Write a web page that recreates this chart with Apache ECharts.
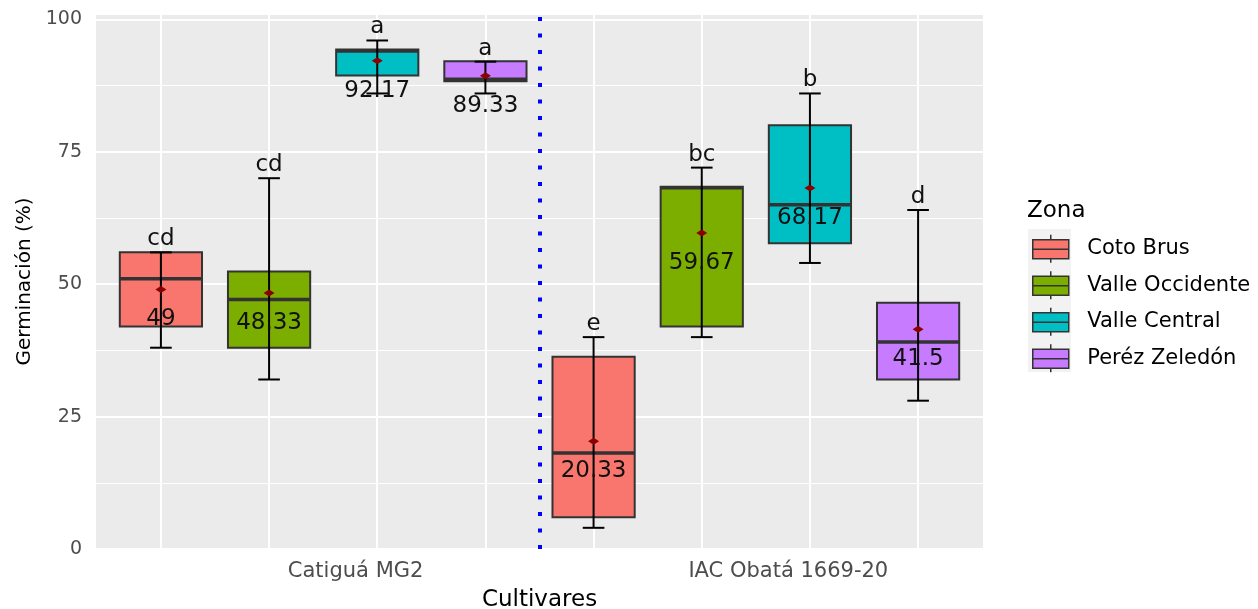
<!DOCTYPE html>
<html><head><meta charset="utf-8">
<script src="https://cdn.jsdelivr.net/npm/echarts@6/dist/echarts.min.js"></script>
<style>html,body{margin:0;padding:0;background:#fff}#c{width:1258px;height:609px}</style>
</head><body><div id="c"></div>
<script>
// ---- data ----
const cultivars = ['Catiguá MG2', 'IAC Obatá 1669-20'];
const cultivarTickPos = [2.8, 6.8];
const zones = ['Coto Brus', 'Valle Occidente', 'Valle Central', 'Peréz Zeledón'];
const zoneColors = ['#F8766D', '#7CAE00', '#00BFC4', '#C77CFF'];
// each row = zone, each column = cultivar
const whiskerLow  = [[38, 4],    [32, 40],    [86, 54],    [86, 28]];
const q1          = [[42, 6],    [38, 42],    [89.4, 57.7],[88.3, 32]];
const median      = [[51, 18.1], [47.1, 68.2],[94, 65],    [88.7, 39.1]];
const q3          = [[56, 36.3], [52.4, 68.4],[94.3, 80],  [92.1, 46.5]];
const whiskerHigh = [[56, 40],   [70, 72],    [96, 86],    [92, 64]];
const means       = [[49, 20.33],[48.33, 59.67],[92.17, 68.17],[89.33, 41.5]];
const letters     = [['cd', 'e'],['cd', 'bc'],['a', 'b'],  ['a', 'd']];
const yTickStep = 25;

const FONT = 'DejaVu Sans';
const BOX_W = 0.76, CAP_W = 0.2;

function boxX(zi, ci) { return ci * zones.length + zi + 1; }

function renderBox(params, api) {
  const zi = params.seriesIndex, di = params.dataIndex;
  const x = api.value(0);
  const pLo = api.coord([x, api.value(1)]);
  const pQ1 = api.coord([x, api.value(2)]);
  const pMed = api.coord([x, api.value(3)]);
  const pQ3 = api.coord([x, api.value(4)]);
  const pHi = api.coord([x, api.value(5)]);
  const pMean = api.coord([x, api.value(6)]);
  const cx = pQ3[0];
  const hw = api.size([BOX_W, 0])[0] / 2;
  const ch = api.size([CAP_W, 0])[0] / 2;
  const color = zoneColors[zi];
  return {
    type: 'group',
    children: [
      { type: 'rect', shape: { x: cx - hw, y: pQ3[1], width: 2 * hw, height: pQ1[1] - pQ3[1] },
        style: { fill: color, stroke: '#333333', lineWidth: 2 } },
      { type: 'line', shape: { x1: cx - hw, y1: pMed[1], x2: cx + hw, y2: pMed[1] },
        style: { stroke: '#333333', lineWidth: 3.5 } },
      { type: 'line', shape: { x1: cx, y1: pLo[1], x2: cx, y2: pHi[1] },
        style: { stroke: '#000', lineWidth: 2 } },
      { type: 'line', shape: { x1: cx - ch, y1: pLo[1], x2: cx + ch, y2: pLo[1] },
        style: { stroke: '#000', lineWidth: 2 } },
      { type: 'line', shape: { x1: cx - ch, y1: pHi[1], x2: cx + ch, y2: pHi[1] },
        style: { stroke: '#000', lineWidth: 2 } },
      { type: 'polygon', shape: { points: [[cx - 5.5, pMean[1]], [cx, pMean[1] - 3.5], [cx + 5.5, pMean[1]], [cx, pMean[1] + 3.5]] },
        style: { fill: '#8B0000' } },
      { type: 'text', style: { text: String(means[zi][di]), x: cx, y: pMean[1] + 30, align: 'center', verticalAlign: 'middle',
        fontSize: 23, fontFamily: FONT, fill: '#111' } },
      { type: 'text', style: { text: letters[zi][di], x: cx, y: pHi[1] - 13, align: 'center', verticalAlign: 'middle',
        fontSize: 23, fontFamily: FONT, fill: '#111' } }
    ]
  };
}

const series = zones.map((z, zi) => ({
  name: z,
  type: 'custom',
  renderItem: renderBox,
  itemStyle: { color: zoneColors[zi] },
  encode: { x: 0, y: [1, 2, 3, 4, 5, 6] },
  data: cultivars.map((c, ci) => [boxX(zi, ci), whiskerLow[zi][ci], q1[zi][ci], median[zi][ci], q3[zi][ci], whiskerHigh[zi][ci], means[zi][ci]]),
  z: 3
}));
// dotted separator between cultivars
series[0].markLine = {
  silent: true, symbol: 'none', label: { show: false },
  lineStyle: { color: '#0000FF', width: 4, type: [4, 12.5] },
  data: [{ xAxis: zones.length + 0.5 }]
};

const boxPositions = [];
cultivars.forEach((c, ci) => zones.forEach((z, zi) => boxPositions.push(boxX(zi, ci))));

const chart = echarts.init(document.getElementById('c'));
chart.setOption({
  animation: false,
  backgroundColor: '#fff',
  textStyle: { fontFamily: FONT },
  title: { text: 'Zona', left: 1027, top: 200, padding: 0,
    textStyle: { fontSize: 23, fontWeight: 'normal', color: '#000', fontFamily: FONT } },
  legend: {
    data: zones, orient: 'vertical', left: 1032, top: 234, padding: 0,
    itemWidth: 37, itemHeight: 28, itemGap: 7,
    icon: 'path://M0,5H36V24H0Z M0,14.5H36 M18,0V5 M18,24V28',
    itemStyle: { borderColor: '#333333', borderWidth: 1.5 },
    textStyle: { fontSize: 21, color: '#000', fontFamily: FONT, padding: [0, 0, 0, 13] },
    selectedMode: false
  },
  graphic: [{ type: 'rect', left: 1028, top: 229, shape: { width: 43, height: 143 }, style: { fill: '#F2F2F2' }, z: 0 }],
  grid: { left: 96, right: 275, top: 14, bottom: 60, show: true, backgroundColor: '#EBEBEB', borderWidth: 0,
    outerBoundsMode: 'none', containLabel: false },
  xAxis: {
    type: 'value', min: 0.4, max: 8.6,
    name: 'Cultivares', nameLocation: 'middle', nameGap: 40,
    nameTextStyle: { fontSize: 23, color: '#000', fontFamily: FONT },
    axisLine: { show: false },
    axisTick: { show: false, customValues: boxPositions },
    axisLabel: { customValues: cultivarTickPos, formatter: v => cultivars[cultivarTickPos.indexOf(v)] || '',
      fontSize: 21, color: '#4D4D4D', margin: 12, fontFamily: FONT },
    splitLine: { show: true, lineStyle: { color: '#FFFFFF', width: 2 } }
  },
  yAxis: {
    type: 'value', min: 0, max: 101, interval: yTickStep,
    name: 'Germinación (%)', nameLocation: 'middle', nameGap: 59,
    nameTextStyle: { fontSize: 20, color: '#000', fontFamily: FONT },
    axisLine: { show: false }, axisTick: { show: false },
    axisLabel: { formatter: v => (v % yTickStep === 0 ? String(v) : ''), fontSize: 19, color: '#4D4D4D', margin: 14, fontFamily: FONT },
    splitLine: { show: true, lineStyle: { color: '#FFFFFF', width: 2 } },
    minorTick: { show: false, splitNumber: 2 },
    minorSplitLine: { show: true, lineStyle: { color: '#FFFFFF', width: 1 } }
  },
  series: series
});
</script>
</body></html>
